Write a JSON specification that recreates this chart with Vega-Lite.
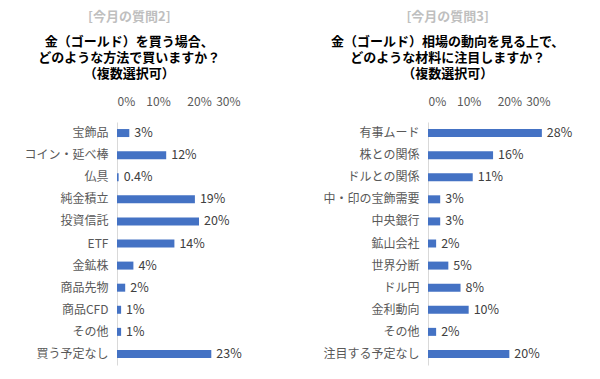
{
  "$schema": "https://vega.github.io/schema/vega-lite/v6.json",
  "padding": {"left": 17, "top": 11, "right": 5, "bottom": 5},
  "background": "white",
  "spacing": 80,
  "config": {
    "font": "Noto Sans CJK JP",
    "view": {"stroke": null},
    "axisX": {"orient": "top", "domain": false, "ticks": false, "grid": false, "labelColor": "#595959", "labelFontSize": 12, "format": ".0%", "values": [0, 0.1, 0.2, 0.3], "labelPadding": 14, "title": null},
    "axisY": {"domain": true, "domainColor": "#d9d9d9", "ticks": false, "grid": false, "labelColor": "#595959", "labelFontSize": 12, "labelPadding": 9, "title": null, "minExtent": 100, "maxExtent": 100},
    "title": {"anchor": "middle", "frame": "bounds", "color": "#bfbfbf", "fontSize": 13, "fontWeight": "bold", "subtitleColor": "#000000", "subtitleFontSize": 13, "subtitleFontWeight": "bold", "subtitleLineHeight": 16, "subtitlePadding": 12, "offset": 14}
  },
  "datasets": {
    "q2": [
      {"item": "宝飾品", "v": 0.03},
      {"item": "コイン・延べ棒", "v": 0.12},
      {"item": "仏具", "v": 0.004},
      {"item": "純金積立", "v": 0.19},
      {"item": "投資信託", "v": 0.20},
      {"item": "ETF", "v": 0.14},
      {"item": "金鉱株", "v": 0.04},
      {"item": "商品先物", "v": 0.02},
      {"item": "商品CFD", "v": 0.01},
      {"item": "その他", "v": 0.01},
      {"item": "買う予定なし", "v": 0.23}
    ],
    "q3": [
      {"item": "有事ムード", "v": 0.28},
      {"item": "株との関係", "v": 0.16},
      {"item": "ドルとの関係", "v": 0.11},
      {"item": "中・印の宝飾需要", "v": 0.03},
      {"item": "中央銀行", "v": 0.03},
      {"item": "鉱山会社", "v": 0.02},
      {"item": "世界分断", "v": 0.05},
      {"item": "ドル円", "v": 0.08},
      {"item": "金利動向", "v": 0.10},
      {"item": "その他", "v": 0.02},
      {"item": "注目する予定なし", "v": 0.20}
    ]
  },
  "hconcat": [
    {
      "data": {"name": "q2"},
      "width": 123,
      "height": 243,
      "title": {"text": "[今月の質問2]", "subtitle": ["金（ゴールド）を買う場合、", "どのような方法で買いますか？", "（複数選択可）"]},
      "encoding": {
        "y": {"field": "item", "type": "nominal", "sort": null, "scale": {"paddingInner": 0, "paddingOuter": 0}},
        "x": {"field": "v", "type": "quantitative", "scale": {"domain": [0, 0.3]}}
      },
      "layer": [
        {"mark": {"type": "bar", "color": "#4472C4", "size": 8}},
        {"mark": {"type": "text", "align": "left", "dx": 5, "fontSize": 12.5, "color": "#404040"}, "encoding": {"text": {"field": "v", "type": "quantitative", "format": ".1~%"}}}
      ]
    },
    {
      "data": {"name": "q3"},
      "width": 122,
      "height": 243,
      "title": {"text": "[今月の質問3]", "subtitle": ["金（ゴールド）相場の動向を見る上で、", "どのような材料に注目しますか？", "（複数選択可）"]},
      "encoding": {
        "y": {"field": "item", "type": "nominal", "sort": null, "scale": {"paddingInner": 0, "paddingOuter": 0}},
        "x": {"field": "v", "type": "quantitative", "scale": {"domain": [0, 0.3]}}
      },
      "layer": [
        {"mark": {"type": "bar", "color": "#4472C4", "size": 8}},
        {"mark": {"type": "text", "align": "left", "dx": 5, "fontSize": 12.5, "color": "#404040"}, "encoding": {"text": {"field": "v", "type": "quantitative", "format": ".1~%"}}}
      ]
    }
  ]
}
